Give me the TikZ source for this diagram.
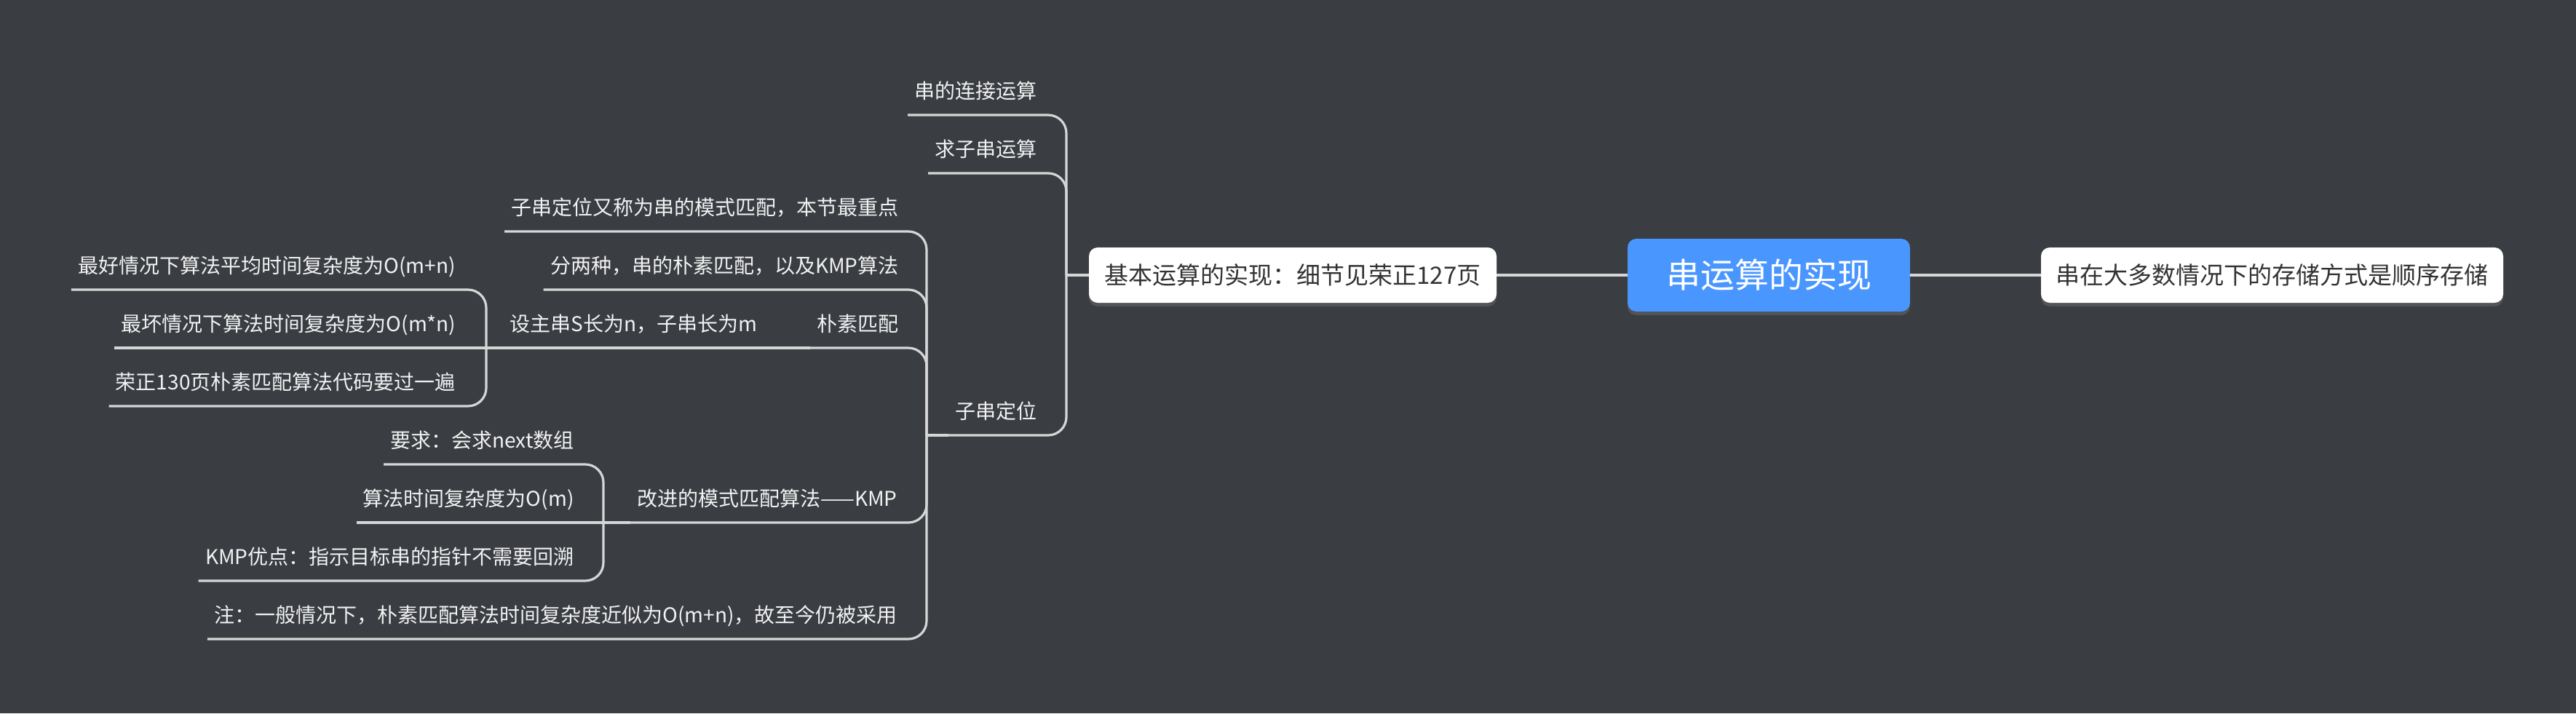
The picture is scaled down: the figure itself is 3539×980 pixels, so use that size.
\documentclass[tikz,border=0pt]{standalone}
\usepackage{fontspec}
\setmainfont{Noto Sans CJK SC}
\usetikzlibrary{shadows}

\definecolor{bgcol}{HTML}{3A3D42}
\definecolor{linecol}{HTML}{D6D6D6}
\definecolor{rootcol}{HTML}{4A96FF}
\definecolor{boxtext}{HTML}{333333}
\definecolor{leaftext}{HTML}{F2F2F2}

\tikzset{
    leaf/.style={anchor=south east, text=leaftext, font=\fontsize{14pt}{16pt}\selectfont,
        inner xsep=4.5pt, inner ysep=8pt, text height=12pt, text depth=3pt},
    branch/.style={draw=linecol, line width=1.6pt, rounded corners=12.5pt},
    topicbox/.style={fill=white, text=boxtext, rounded corners=6pt, minimum height=38pt,
        font=\fontsize{16.5pt}{18pt}\selectfont,
        drop shadow={opacity=0.35, shadow xshift=0pt, shadow yshift=-2.5pt}},
    rootbox/.style={fill=rootcol, text=white, rounded corners=6pt, minimum width=194pt,
        minimum height=50pt, font=\fontsize{23.5pt}{26pt}\selectfont,
        drop shadow={opacity=0.35, shadow xshift=0pt, shadow yshift=-2.5pt}}
}

\begin{document}
\begin{tikzpicture}[x=0.5pt, y=-0.5pt]
    %% one unit is one pixel of the screenshot, y runs downwards
    \useasboundingbox (0,0) rectangle (3539,980);
    \fill[bgcol] (0,0) rectangle (3539,980);

    %% the central topic and the two boxes beside it
    \node[rootbox] (root) at (2430,378) {串运算的实现};
    \node[topicbox, minimum width=280pt] (basic) at (1776,378) {基本运算的实现：细节见荣正127页};
    \node[topicbox, minimum width=317.5pt] (store) at (3121.5,378) {串在大多数情况下的存储方式是顺序存储};

    %% first level under the basic operations
    \node[leaf] (cat) at (1434,158) {串的连接运算};
    \node[leaf] (sub) at (1434,238) {求子串运算};
    \node[leaf] (loc) at (1434,598) {子串定位};

    %% substring location
    \node[leaf] (alias) at (1244,318) {子串定位又称为串的模式匹配，本节最重点};
    \node[leaf] (kinds) at (1244,398) {分两种，串的朴素匹配，以及KMP算法};
    \node[leaf] (naive) at (1244,478) {朴素匹配};
    \node[leaf] (kmp) at (1242,718) {改进的模式匹配算法——KMP};
    \node[leaf] (note) at (1242,878) {注：一般情况下，朴素匹配算法时间复杂度近似为O(m+n)，故至今仍被采用};

    %% naive matching
    \node[leaf] (len) at (1050,478) {设主串S长为n，子串长为m};
    \node[leaf] (best) at (635,398) {最好情况下算法平均时间复杂度为O(m+n)};
    \node[leaf] (worst) at (635,478) {最坏情况下算法时间复杂度为O(m*n)};
    \node[leaf] (code) at (635,558) {荣正130页朴素匹配算法代码要过一遍};

    %% KMP
    \node[leaf] (next) at (798,638) {要求：会求next数组};
    \node[leaf] (cost) at (798,718) {算法时间复杂度为O(m)};
    \node[leaf] (gain) at (798,798) {KMP优点：指示目标串的指针不需要回溯};

    %% where the children of a topic meet
    \coordinate (basicB) at (1465,378);
    \coordinate (locB) at (1273,598);
    \coordinate (naiveB) at (1082,478);
    \coordinate (lenB) at (668,478);
    \coordinate (kmpB) at (829,718);

    %% connectors
    \draw[branch] (basic.east) -- (root.west);
    \draw[branch] (root.east) -- (store.west);

    \draw[branch] (basicB) -- (basic.west);
    \draw[branch] (cat.south west) -| (basicB);
    \draw[branch] (sub.south west) -| (basicB);
    \draw[branch] (loc.south west) -| (basicB);

    \draw[branch] (locB) -- (loc.south west);
    \draw[branch] (alias.south west) -| (locB);
    \draw[branch] (kinds.south west) -| (locB);
    \draw[branch] (naive.south west) -| (locB);
    \draw[branch] (kmp.south west) -| (locB);
    \draw[branch] (note.south west) -| (locB);

    \draw[branch] (naiveB) -- (naive.south west);
    \draw[branch] (len.south west) -- (naiveB);
    \draw[branch] (lenB) -- (len.south west);
    \draw[branch] (best.south west) -| (lenB);
    \draw[branch] (worst.south west) -- (lenB);
    \draw[branch] (code.south west) -| (lenB);

    \draw[branch] (kmpB) -- (kmp.south west);
    \draw[branch] (next.south west) -| (kmpB);
    \draw[branch] (cost.south west) -- (kmpB);
    \draw[branch] (gain.south west) -| (kmpB);
\end{tikzpicture}
\end{document}
